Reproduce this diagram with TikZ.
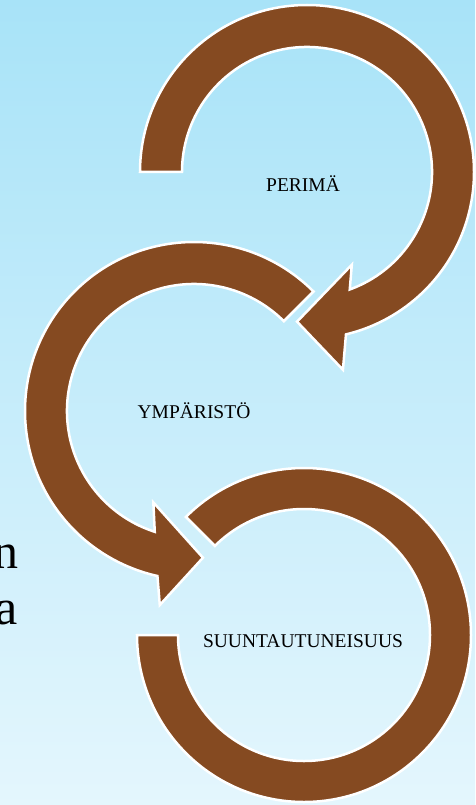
\documentclass[tikz,border=0pt]{standalone}
\usepackage{fontspec}
\setmainfont{Liberation Serif}
\definecolor{ringbrown}{RGB}{133,74,33}
\definecolor{bgtop}{RGB}{168,227,248}
\definecolor{bgbottom}{RGB}{228,246,253}
\begin{document}
\begin{tikzpicture}[x=1pt,y=1pt,
  ring/.style={fill=ringbrown,draw=white,line width=2.5pt,line join=miter},
  ringtext/.style={font=\fontsize{19.5}{21}\selectfont,anchor=base,inner sep=0pt},
  sidetext/.style={font=\fontsize{50}{54}\selectfont,anchor=base east,inner sep=0pt}]
\useasboundingbox (0,0) rectangle (475,-805);
\shade[top color=bgtop,bottom color=bgbottom] (0,0) rectangle (475,-805);
% cut-off text on the left
\node[sidetext] (sidea) at (19,-568) {n};
\node[sidetext] (sideb) at (18,-624) {a};
% top ring
\begin{scope}[shift={(307,-172)}]
\draw[ring] (180:167) arc[start angle=180,end angle=-76.5,radius=167]
  -- (-79.7:201) -- (-93.8:150) -- (-64.2:103) -- (-70:125)
  arc[start angle=-70,end angle=180,radius=125] -- cycle;
\end{scope}
\node[ringtext] (perima) at (303,-191) {PERIMÄ};
% middle ring
\begin{scope}[shift={(194,-411)}]
\draw[ring] (45:169) arc[start angle=45,end angle=257.5,radius=169]
  -- (260:197) -- (273.5:147) -- (246:100) -- (252:127)
  arc[start angle=252,end angle=45,radius=127] -- cycle;
\end{scope}
\node[ringtext] (ymparisto) at (194,-418) {YMPÄRISTÖ};
% bottom ring
\begin{scope}[shift={(304,-635)}]
\draw[ring] (135:167) arc[start angle=135,end angle=-180,radius=167]
  -- (180:126) arc[start angle=-180,end angle=135,radius=126] -- cycle;
\end{scope}
\node[ringtext] (suunta) at (303,-647) {SUUNTAUTUNEISUUS};
\end{tikzpicture}
\end{document}
